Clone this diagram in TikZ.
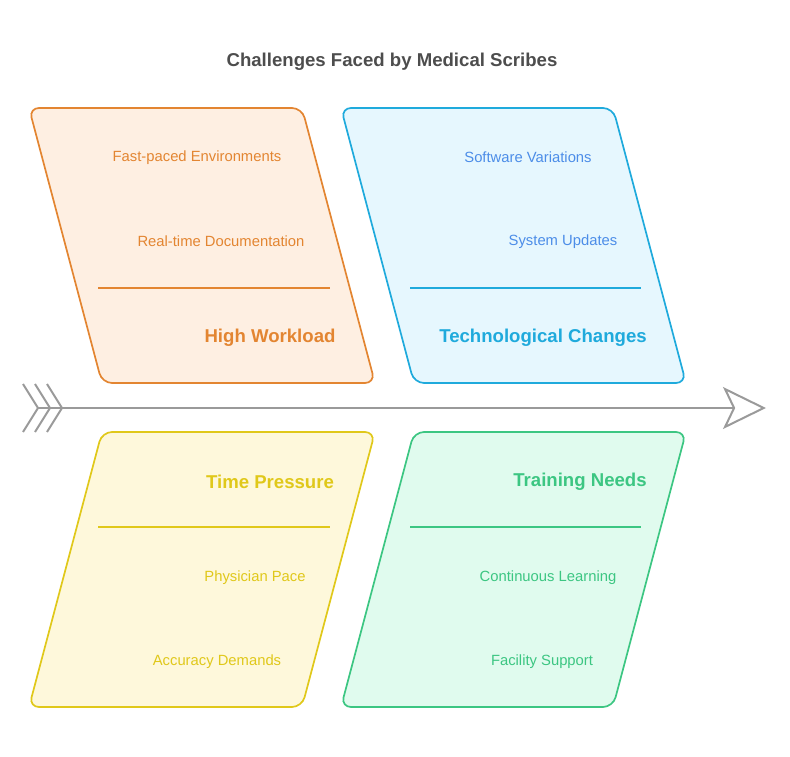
\documentclass[tikz,border=0pt]{standalone}
\usepackage{fontspec}
\setmainfont{Liberation Sans}
\usepackage{tikz}
\usetikzlibrary{arrows.meta}
\definecolor{titlec}{HTML}{4D4D4D}
\definecolor{spinec}{HTML}{9A9A9A}
\definecolor{workc}{HTML}{E38531}
\definecolor{workf}{HTML}{FEEFE2}
\definecolor{techc}{HTML}{1FAADC}
\definecolor{techf}{HTML}{E6F7FE}
\definecolor{techitem}{HTML}{4C8DE8}
\definecolor{timec}{HTML}{E0C81A}
\definecolor{timef}{HTML}{FEF8DB}
\definecolor{trainc}{HTML}{3CC682}
\definecolor{trainf}{HTML}{E0FBEE}
\tikzset{
  bone/.style 2 args={draw=#1,fill=#2,line width=1.7pt,rounded corners=10pt},
  rule/.style={draw=#1,line width=1.5pt},
  head/.style={text=#1,font=\fontsize{18.6}{22}\selectfont\bfseries,inner sep=0pt,yshift=-2pt},
  item/.style={text=#1,font=\fontsize{14.8}{17}\selectfont,inner sep=0pt,yshift=-1.5pt},
  spine/.style={draw=spinec,line width=2pt},
}

\begin{document}
\begin{tikzpicture}[x=1pt,y=-1pt]
  \useasboundingbox (0,0) rectangle (790,757);
  \node[text=titlec,font=\fontsize{18.6}{22}\selectfont\bfseries,yshift=-1.5pt] (title) at (392,60) {Challenges Faced by Medical Scribes};
  % upper bones
  \draw[bone={workc}{workf}] (29,108) -- (302,108) -- (375,383) -- (102,383) -- cycle;
  \draw[bone={techc}{techf}] (341,108) -- (613,108) -- (686,383) -- (414,383) -- cycle;
  % lower bones
  \draw[bone={timec}{timef}] (102,432) -- (375,432) -- (302,707) -- (29,707) -- cycle;
  \draw[bone={trainc}{trainf}] (414,432) -- (686,432) -- (613,707) -- (341,707) -- cycle;
  \draw[rule=workc] (98,288) -- (330,288);
  \draw[rule=techc] (410,288) -- (641,288);
  \draw[rule=timec] (98,527) -- (330,527);
  \draw[rule=trainc] (410,527) -- (641,527);
  \node[item=workc] (w1) at (197,156) {Fast-paced Environments};
  \node[item=workc] (w2) at (221,240) {Real-time Documentation};
  \node[head=workc] (work) at (270,336) {High Workload};
  \node[item=techitem] (t1) at (528,156) {Software Variations};
  \node[item=techitem] (t2) at (563,240) {System Updates};
  \node[head=techc] (tech) at (543,336) {Technological Changes};
  \node[head=timec] (time) at (270,480) {Time Pressure};
  \node[item=timec] (p1) at (255,576) {Physician Pace};
  \node[item=timec] (p2) at (217,660) {Accuracy Demands};
  \node[head=trainc] (train) at (580,480) {Training Needs};
  \node[item=trainc] (n1) at (548,576) {Continuous Learning};
  \node[item=trainc] (n2) at (542,660) {Facility Support};
  % spine
  \coordinate (tail) at (38,408);
  \coordinate (tip) at (766,408);
  \foreach \x in {38,50,62}{ \draw[spine] (\x-15,384) -- (\x,408) -- (\x-15,432); }
  \draw[spine,-{Stealth[open,fill=white,length=43pt,width=42pt,inset=10pt]}] (tail) -- (tip);
\end{tikzpicture}
\end{document}
